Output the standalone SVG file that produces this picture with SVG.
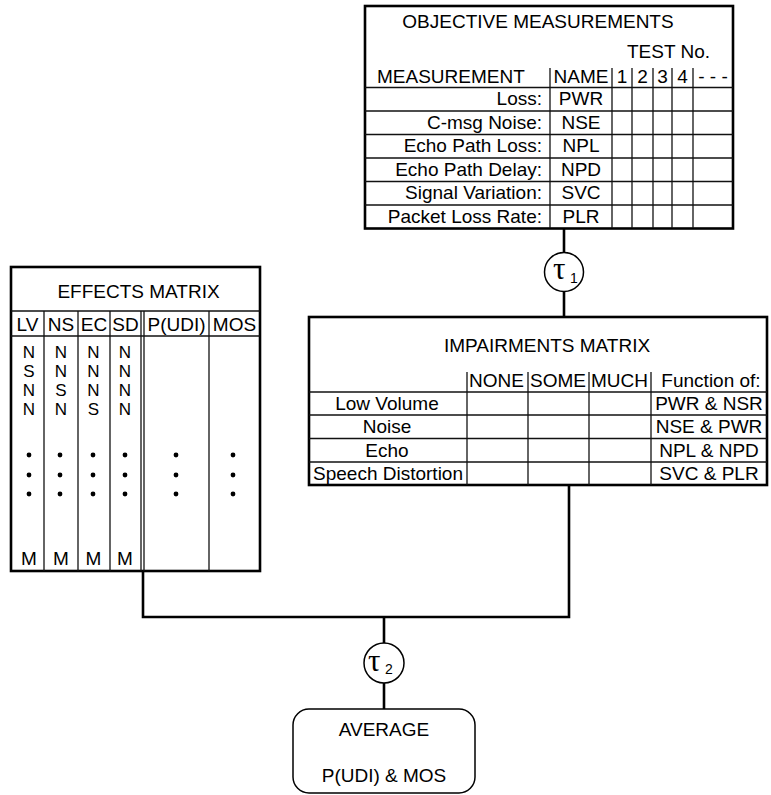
<svg xmlns="http://www.w3.org/2000/svg" width="771" height="795" viewBox="0 0 771 795">
  <style>
    text { font-family: "Liberation Sans", Arial, sans-serif; font-size: 19px; fill: #000; }
    .c { text-anchor: middle; }
    .r { text-anchor: end; }
    .frame { fill: #fff; stroke: #000; stroke-width: 2.6; }
    .grid { stroke: #111; stroke-width: 1.3; fill: none; }
    .wire { stroke: #000; stroke-width: 2.6; fill: none; }
    .node { fill: #fff; stroke: #000; stroke-width: 1.5; }
    .tau { font-family: "Liberation Serif", "DejaVu Serif", serif; font-size: 31px; }
    .sub { font-size: 14px; }
    .cell { font-size: 17px; text-anchor: middle; }
  </style>

  <!-- connecting lines -->
  <g id="connectors">
    <line class="wire" x1="564" y1="228" x2="564" y2="317"/>
    <polyline class="wire" points="143,571 143,617 569,617 569,485"/>
    <line class="wire" x1="384" y1="617" x2="384" y2="709"/>
  </g>

  <!-- objective measurements table -->
  <g id="objective">
    <rect class="frame" x="365" y="6" width="368" height="222.5"/>
    <text class="c" x="538" y="28">OBJECTIVE MEASUREMENTS</text>
    <text x="627" y="58">TEST No.</text>
    <g class="grid">
      <line x1="365" y1="87.5" x2="733" y2="87.5"/>
      <line x1="365" y1="111" x2="733" y2="111"/>
      <line x1="365" y1="134.5" x2="733" y2="134.5"/>
      <line x1="365" y1="158" x2="733" y2="158"/>
      <line x1="365" y1="181.5" x2="733" y2="181.5"/>
      <line x1="365" y1="205" x2="733" y2="205"/>
      <line x1="550" y1="68" x2="550" y2="228"/>
      <line x1="612" y1="68" x2="612" y2="228"/>
      <line x1="632" y1="68" x2="632" y2="228"/>
      <line x1="653" y1="68" x2="653" y2="228"/>
      <line x1="672" y1="68" x2="672" y2="228"/>
      <line x1="693" y1="68" x2="693" y2="228"/>
    </g>
    <text x="377" y="83">MEASUREMENT</text>
    <text class="c" x="581" y="83">NAME</text>
    <text class="c" x="622" y="83">1</text>
    <text class="c" x="642.5" y="83">2</text>
    <text class="c" x="662.5" y="83">3</text>
    <text class="c" x="682.5" y="83">4</text>
    <text class="c" x="713" y="83">- - -</text>
    <text class="r" x="542" y="105">Loss:</text>
    <text class="r" x="542" y="128.5">C-msg Noise:</text>
    <text class="r" x="542" y="152">Echo Path Loss:</text>
    <text class="r" x="542" y="175.5">Echo Path Delay:</text>
    <text class="r" x="542" y="199">Signal Variation:</text>
    <text class="r" x="542" y="222.5">Packet Loss Rate:</text>
    <text class="c" x="581" y="105">PWR</text>
    <text class="c" x="581" y="128.5">NSE</text>
    <text class="c" x="581" y="152">NPL</text>
    <text class="c" x="581" y="175.5">NPD</text>
    <text class="c" x="581" y="199">SVC</text>
    <text class="c" x="581" y="222.5">PLR</text>
  </g>

  <!-- tau 1 -->
  <g id="tau1">
    <circle class="node" cx="564" cy="272" r="19.5"/>
    <text class="tau" x="553" y="279">τ</text>
    <text class="sub" x="570" y="283">1</text>
  </g>

  <!-- impairments matrix -->
  <g id="impairments">
    <rect class="frame" x="309" y="317" width="458" height="168"/>
    <text class="c" x="547" y="352">IMPAIRMENTS MATRIX</text>
    <g class="grid">
      <line x1="309" y1="392" x2="767" y2="392"/>
      <line x1="309" y1="415" x2="767" y2="415"/>
      <line x1="309" y1="438.5" x2="767" y2="438.5"/>
      <line x1="309" y1="462" x2="767" y2="462"/>
      <line x1="467" y1="372" x2="467" y2="485"/>
      <line x1="528" y1="372" x2="528" y2="485"/>
      <line x1="589" y1="372" x2="589" y2="485"/>
      <line x1="651" y1="372" x2="651" y2="485"/>
    </g>
    <text x="469" y="387">NONE</text>
    <text x="530" y="387">SOME</text>
    <text x="591" y="387">MUCH</text>
    <text class="c" x="711" y="387">Function of:</text>
    <text class="c" x="387" y="410">Low Volume</text>
    <text class="c" x="387" y="433">Noise</text>
    <text class="c" x="387" y="456.5">Echo</text>
    <text class="c" x="388" y="480">Speech Distortion</text>
    <text class="c" x="709" y="410">PWR &amp; NSR</text>
    <text class="c" x="709" y="433">NSE &amp; PWR</text>
    <text class="c" x="709" y="456.5">NPL &amp; NPD</text>
    <text class="c" x="709" y="480">SVC &amp; PLR</text>
  </g>

  <!-- effects matrix -->
  <g id="effects">
    <rect class="frame" x="11" y="267" width="249" height="304"/>
    <text class="c" x="138.5" y="298">EFFECTS MATRIX</text>
    <g class="grid">
      <line x1="11" y1="311" x2="260" y2="311"/>
      <line x1="11" y1="336" x2="260" y2="336"/>
      <line x1="44" y1="311" x2="44" y2="571"/>
      <line x1="78" y1="311" x2="78" y2="571"/>
      <line x1="110" y1="311" x2="110" y2="571"/>
      <line x1="141" y1="311" x2="141" y2="571"/>
      <line x1="144" y1="311" x2="144" y2="571"/>
      <line x1="209" y1="311" x2="209" y2="571"/>
    </g>
    <text class="c" x="27.5" y="331">LV</text>
    <text class="c" x="61" y="331">NS</text>
    <text class="c" x="94" y="331">EC</text>
    <text class="c" x="125.5" y="331">SD</text>
    <text class="c" x="176.5" y="331">P(UDI)</text>
    <text class="c" x="234.5" y="331">MOS</text>
    <!-- one column of level codes per impairment -->
    <text class="cell" x="29"><tspan x="29" y="358">N</tspan><tspan x="29" y="377">S</tspan><tspan x="29" y="396">N</tspan><tspan x="29" y="415">N</tspan></text>
    <text class="cell" x="61"><tspan x="61" y="358">N</tspan><tspan x="61" y="377">N</tspan><tspan x="61" y="396">S</tspan><tspan x="61" y="415">N</tspan></text>
    <text class="cell" x="93.5"><tspan x="93.5" y="358">N</tspan><tspan x="93.5" y="377">N</tspan><tspan x="93.5" y="396">N</tspan><tspan x="93.5" y="415">S</tspan></text>
    <text class="cell" x="125"><tspan x="125" y="358">N</tspan><tspan x="125" y="377">N</tspan><tspan x="125" y="396">N</tspan><tspan x="125" y="415">N</tspan></text>
    <text class="c" x="29" y="565">M</text>
    <text class="c" x="61" y="565">M</text>
    <text class="c" x="93.5" y="565">M</text>
    <text class="c" x="125" y="565">M</text>
    <g fill="#000">
      <circle cx="29" cy="455" r="2.4"/><circle cx="29" cy="475" r="2.4"/><circle cx="29" cy="494" r="2.4"/>
      <circle cx="60" cy="455" r="2.4"/><circle cx="60" cy="475" r="2.4"/><circle cx="60" cy="494" r="2.4"/>
      <circle cx="93" cy="455" r="2.4"/><circle cx="93" cy="475" r="2.4"/><circle cx="93" cy="494" r="2.4"/>
      <circle cx="125" cy="455" r="2.4"/><circle cx="125" cy="475" r="2.4"/><circle cx="125" cy="494" r="2.4"/>
      <circle cx="176" cy="455" r="2.4"/><circle cx="176" cy="475" r="2.4"/><circle cx="176" cy="494" r="2.4"/>
      <circle cx="233" cy="455" r="2.4"/><circle cx="233" cy="475" r="2.4"/><circle cx="233" cy="494" r="2.4"/>
    </g>
  </g>

  <!-- tau 2 -->
  <g id="tau2">
    <circle class="node" cx="384" cy="663" r="20"/>
    <text class="tau" x="368" y="671">τ</text>
    <text class="sub" x="385" y="674">2</text>
  </g>

  <!-- averaging result -->
  <g id="average">
    <rect class="node" x="293" y="709" width="182" height="84" rx="16"/>
    <text class="c" x="384" y="736">AVERAGE</text>
    <text class="c" x="384" y="782">P(UDI) &amp; MOS</text>
  </g>
</svg>
